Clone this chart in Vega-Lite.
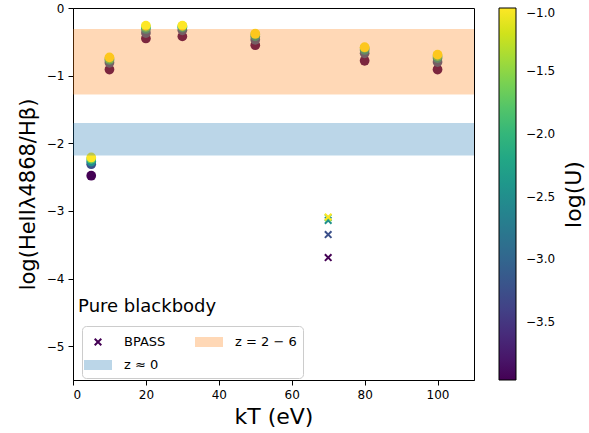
{
  "$schema": "https://vega.github.io/schema/vega-lite/v6.json",
  "width": 401,
  "height": 372,
  "autosize": "none",
  "padding": {"left": 73, "top": 8, "right": 115, "bottom": 53},
  "background": "white",
  "config": {
    "font": "DejaVu Sans",
    "view": {"stroke": "black", "strokeWidth": 1},
    "axis": {"grid": false, "domainColor": "black", "tickColor": "black", "tickSize": 5, "labelFontSize": 12, "labelColor": "black", "titleFontSize": 22, "titleFontWeight": "normal", "titleColor": "black", "labelPadding": 4}
  },
  "datasets": {
    "bands": [
      {"label": "z = 2 − 6", "lo": -1.28, "hi": -0.31},
      {"label": "z ≈ 0", "lo": -2.18, "hi": -1.70}
    ],
    "bb": [
      {"kT": 5, "logU": -3.96, "ratio": -2.48}, {"kT": 5, "logU": -3.25, "ratio": -2.31}, {"kT": 5, "logU": -2.5, "ratio": -2.27}, {"kT": 5, "logU": -1.75, "ratio": -2.23}, {"kT": 5, "logU": -1.0, "ratio": -2.21},
      {"kT": 10, "logU": -3.96, "ratio": -0.91}, {"kT": 10, "logU": -3.25, "ratio": -0.81}, {"kT": 10, "logU": -2.5, "ratio": -0.77}, {"kT": 10, "logU": -1.75, "ratio": -0.75}, {"kT": 10, "logU": -1.0, "ratio": -0.73},
      {"kT": 20, "logU": -3.96, "ratio": -0.45}, {"kT": 20, "logU": -3.25, "ratio": -0.37}, {"kT": 20, "logU": -2.5, "ratio": -0.31}, {"kT": 20, "logU": -1.75, "ratio": -0.28}, {"kT": 20, "logU": -1.0, "ratio": -0.26},
      {"kT": 30, "logU": -3.96, "ratio": -0.42}, {"kT": 30, "logU": -3.25, "ratio": -0.33}, {"kT": 30, "logU": -2.5, "ratio": -0.29}, {"kT": 30, "logU": -1.75, "ratio": -0.27}, {"kT": 30, "logU": -1.0, "ratio": -0.26},
      {"kT": 50, "logU": -3.96, "ratio": -0.55}, {"kT": 50, "logU": -3.25, "ratio": -0.47}, {"kT": 50, "logU": -2.5, "ratio": -0.42}, {"kT": 50, "logU": -1.75, "ratio": -0.39}, {"kT": 50, "logU": -1.0, "ratio": -0.38},
      {"kT": 80, "logU": -3.96, "ratio": -0.78}, {"kT": 80, "logU": -3.25, "ratio": -0.67}, {"kT": 80, "logU": -2.5, "ratio": -0.62}, {"kT": 80, "logU": -1.75, "ratio": -0.59}, {"kT": 80, "logU": -1.0, "ratio": -0.58},
      {"kT": 100, "logU": -3.96, "ratio": -0.91}, {"kT": 100, "logU": -3.25, "ratio": -0.80}, {"kT": 100, "logU": -2.5, "ratio": -0.74}, {"kT": 100, "logU": -1.75, "ratio": -0.71}, {"kT": 100, "logU": -1.0, "ratio": -0.69}
    ],
    "bpass": [
      {"kT": 70, "logU": -3.96, "ratio": -3.69}, {"kT": 70, "logU": -3.25, "ratio": -3.35}, {"kT": 70, "logU": -2.5, "ratio": -3.14}, {"kT": 70, "logU": -1.75, "ratio": -3.10}, {"kT": 70, "logU": -1.0, "ratio": -3.09}
    ],
    "note": [{"kT": 1.4, "ratio": -4.5, "text": "Pure blackbody"}]
  },
  "layer": [
    {
      "layer": [
        {
          "data": {"name": "bb"},
          "mark": {"type": "point", "shape": "circle", "filled": true, "size": 95, "opacity": 1},
          "encoding": {
            "x": {"field": "kT", "type": "quantitative", "scale": {"domain": [0, 110], "nice": false}, "axis": {"values": [0, 20, 40, 60, 80, 100], "title": "kT (eV)", "titlePadding": 6}},
            "y": {"field": "ratio", "type": "quantitative", "scale": {"domain": [-5.5, 0], "nice": false, "zero": false},
                  "axis": {"orient": "left", "values": [0, -1, -2, -3, -4, -5], "format": ".0f", "title": "log(HeIIλ4868/Hβ)", "titlePadding": 8, "titleFontSize": 21}},
            "color": {"field": "logU", "type": "quantitative", "scale": {"scheme": "viridis", "domain": [-3.96, -1], "nice": false, "zero": false},
                      "legend": {"orient": "none", "legendX": 426, "legendY": 0, "direction": "vertical", "gradientLength": 372, "gradientThickness": 17, "gradientStrokeColor": "black", "gradientStrokeWidth": 1,
                                 "values": [-3.5, -3, -2.5, -2, -1.5, -1], "format": ".1f", "labelFontSize": 12, "labelColor": "black", "labelOffset": 10, "labelFlush": false,
                                 "title": null}}
          }
        },
        {
          "data": {"name": "bpass"},
          "mark": {"type": "point", "shape": "M-1,-0.65L-0.65,-1L1,0.65L0.65,1ZM0.65,-1L1,-0.65L-0.65,1L-1,0.65Z", "filled": true, "size": 64, "opacity": 1},
          "encoding": {
            "x": {"field": "kT", "type": "quantitative"},
            "y": {"field": "ratio", "type": "quantitative"},
            "color": {"field": "logU", "type": "quantitative"}
          }
        },
        {
          "data": {"name": "bands"},
          "mark": {"type": "rect", "fillOpacity": 0.3},
          "encoding": {
            "y": {"field": "lo", "type": "quantitative"},
            "y2": {"field": "hi"},
            "fill": {"field": "label", "type": "nominal",
                     "scale": {"domain": ["BPASS", "z ≈ 0", "z = 2 − 6"], "range": ["#440154", "#1f77b4", "#ff7f0e"]},
                     "legend": {"orient": "none", "legendX": 9, "legendY": 318, "title": null, "columns": 2, "columnPadding": 29, "rowPadding": 6,
                                "symbolSize": 400, "symbolStrokeWidth": 0, "labelFontSize": 13, "labelColor": "black", "labelOffset": 16,
                                "padding": 6, "cornerRadius": 4, "strokeColor": "#cccccc", "fillColor": "rgba(255,255,255,0.8)",
                                "encode": {"symbols": {"update": {
                                  "shape": {"signal": "datum.value === 'BPASS' ? 'M-0.4,-0.26L-0.26,-0.4L0.4,0.26L0.26,0.4ZM0.26,-0.4L0.4,-0.26L-0.26,0.4L-0.4,0.26Z' : 'M-1.4,-0.5H1.4V0.5H-1.4Z'"},
                                  "fillOpacity": {"signal": "datum.value === 'BPASS' ? 1 : 0.3"}}}}}}
          }
        }
      ]
    },
    {
      "data": {"name": "note"},
      "mark": {"type": "text", "align": "left", "baseline": "alphabetic", "fontSize": 18, "color": "black"},
      "encoding": {
        "x": {"field": "kT", "type": "quantitative"},
        "y": {"field": "ratio", "type": "quantitative", "scale": {"domain": [-5.5, 0], "nice": false, "zero": false},
              "axis": {"orient": "right", "title": "log(U)", "labels": false, "ticks": false, "domain": false, "grid": false,
                       "titleAngle": 270, "titleBaseline": "top", "titleAnchor": "middle", "titlePadding": 89, "titleFontSize": 22}},
        "text": {"field": "text"}
      }
    }
  ],
  "resolve": {"scale": {"y": "independent"}}
}
